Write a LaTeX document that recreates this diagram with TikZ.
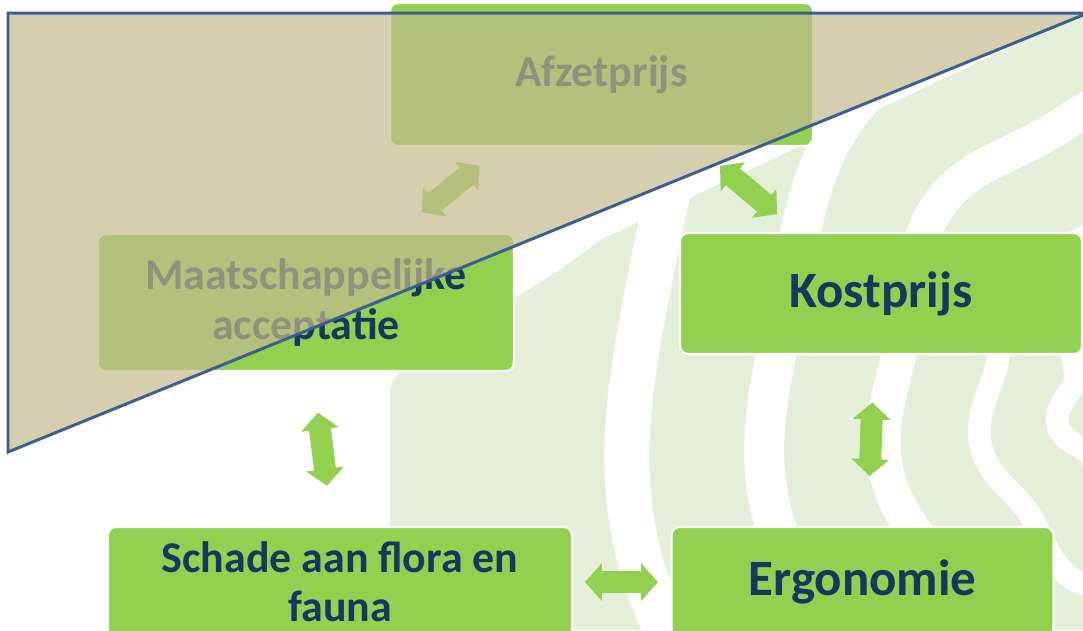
\documentclass[tikz,border=0pt]{standalone}
\usepackage{fontspec}
\setmainfont{Carlito}
\usetikzlibrary{arrows.meta}
\definecolor{boxgreen}{HTML}{92D050}
\definecolor{navy}{HTML}{17375E}
\definecolor{ringgreen}{HTML}{E4EFD9}
\definecolor{overlaytan}{RGB}{195,187,140}
\definecolor{edgeblue}{HTML}{3B5F95}
\begin{document}
\begin{tikzpicture}[x=0.02cm, y=-0.02cm,
  box/.style={draw=white, line width=1.2pt, fill=boxgreen, rounded corners=0.16cm,
    text=navy, align=center, inner sep=0pt},
  midtext/.style={font=\fontsize{25}{28}\selectfont\bfseries},
  bigtext/.style={font=\fontsize{29}{33}\selectfont\bfseries},
  dblarrow/.style={boxgreen, line width=12.5pt,
    {Triangle[width=21pt,length=9.6pt]}-{Triangle[width=21pt,length=9.6pt]}}]
\useasboundingbox (0,0) rectangle (1083,630);
\clip (0,0) rectangle (1083,630);

% tree rings in the background
\fill[ringgreen] (390,630) -- (390,390) .. controls (400,345) and (500,320) .. (600,240)
  -- (1090,10) -- (1090,630) -- cycle;
\foreach \r/\w in {520/0.9, 382/0.8, 262/0.7, 165/0.45, 86/0.45}
  \draw[white, line width=\w cm] plot[smooth, domain=0:360, samples=73]
    ({1150+(\r+9*sin(7*\x))*cos(\x)}, {400+1.15*(\r+9*sin(7*\x))*sin(\x)});

\node[box, midtext, minimum width=8.46cm, minimum height=2.86cm] (afzet) at (601.5,74.5) {Afzetprijs};
\node[box, midtext, minimum width=8.32cm, minimum height=2.74cm] (maat) at (306,302.5) {Maatschappelijke\\acceptatie};
\node[box, bigtext, minimum width=8.04cm, minimum height=2.42cm] (kost) at (881,293.5) {Kostprijs};
\node[box, midtext, minimum width=9.28cm, minimum height=2.2cm] (schade) at (340,582) {Schade aan flora en\\fauna};
\node[box, bigtext, minimum width=7.64cm, minimum height=2.2cm] (ergo) at (862.5,582) {Ergonomie};

\draw[dblarrow, shorten <=0.6cm, shorten >=0.66cm] ([xshift=2.28cm]afzet.south west) -- ([xshift=5.98cm]maat.north west);
\draw[dblarrow, shorten <=0.58cm, shorten >=0.55cm] ([xshift=6.18cm]afzet.south west) -- ([xshift=2.38cm]kost.north west);
\draw[dblarrow, shorten <=0.82cm, shorten >=0.81cm] ([xshift=4.32cm]maat.south west) -- ([xshift=4.5cm]schade.north west);
\draw[dblarrow, shorten <=0.95cm, shorten >=1cm] ([xshift=3.9cm]kost.south west) -- ([xshift=3.95cm]ergo.north west);
\draw[dblarrow, shorten <=0.24cm, shorten >=0.25cm] (schade.east) -- (ergo.west);

\filldraw[fill=overlaytan, fill opacity=0.7, draw=edgeblue, line width=1.7pt]
  (8,13) -- (1088,13) -- (8,452) -- cycle;
\end{tikzpicture}
\end{document}
